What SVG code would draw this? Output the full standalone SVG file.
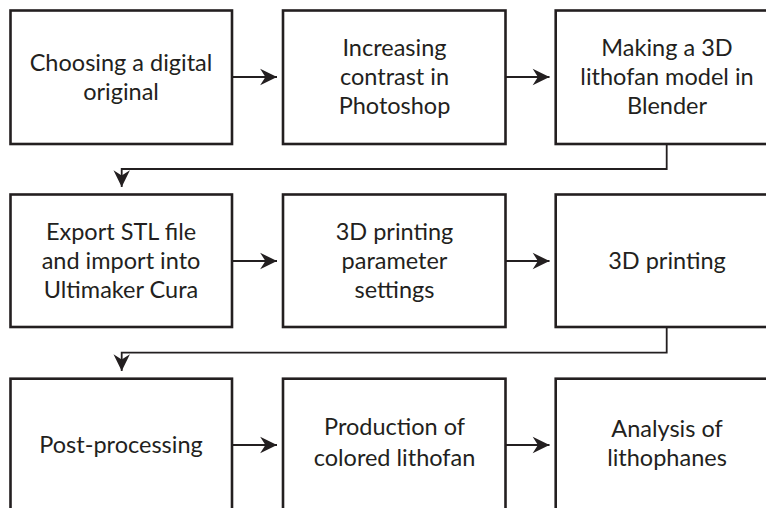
<svg xmlns="http://www.w3.org/2000/svg" width="766" height="508" viewBox="0 0 766 508">
<style>
.box{fill:#fff;stroke:#231f20;stroke-width:2.6}
.lbl{font-family:Lato,"Open Sans","Liberation Sans",sans-serif;font-size:23.5px;fill:#231f20;text-anchor:middle}
.con{fill:none;stroke:#231f20;stroke-width:1.8;marker-end:url(#ah)}
</style>
<defs>
<marker id="ah" markerUnits="userSpaceOnUse" markerWidth="20" markerHeight="20" viewBox="-18 -9 19 18" refX="0" refY="0" orient="auto">
<path d="M0,0 L-16,-7.8 L-11,0 L-16,7.8 Z" fill="#231f20"/>
</marker>
</defs>
<rect width="766" height="508" fill="#fff"/>
<g id="connectors">
<line class="con" x1="232" y1="77" x2="277" y2="77"/>
<line class="con" x1="506" y1="77" x2="549.5" y2="77"/>
<polyline class="con" points="666.7,144 666.7,169 121.7,169 121.7,187"/>
<line class="con" x1="232" y1="261" x2="277" y2="261"/>
<line class="con" x1="506" y1="261" x2="549.5" y2="261"/>
<polyline class="con" points="666.7,327 666.7,352.7 121.7,352.7 121.7,371"/>
<line class="con" x1="232" y1="445" x2="277" y2="445"/>
<line class="con" x1="506" y1="445" x2="549.5" y2="445"/>
</g>
<g id="n1"><rect class="box" x="10.5" y="10.5" width="221.5" height="133.5"/>
<text class="lbl" x="121" y="71">Choosing a digital</text><text class="lbl" x="121" y="100">original</text></g>
<g id="n2"><rect class="box" x="283" y="10.5" width="222.5" height="133.5"/>
<text class="lbl" x="394.5" y="56">Increasing</text><text class="lbl" x="394.5" y="85">contrast in</text><text class="lbl" x="394.5" y="113.5">Photoshop</text></g>
<g id="n3"><rect class="box" x="555.7" y="10.5" width="222.5" height="133.5"/>
<text class="lbl" x="667" y="56">Making a 3D</text><text class="lbl" x="667" y="85">lithofan model in</text><text class="lbl" x="667" y="113.5">Blender</text></g>
<g id="n4"><rect class="box" x="10.5" y="194.5" width="221.5" height="132.5"/>
<text class="lbl" x="121" y="240">Export STL file</text><text class="lbl" x="121" y="269">and import into</text><text class="lbl" x="121" y="298">Ultimaker Cura</text></g>
<g id="n5"><rect class="box" x="283" y="194.5" width="222.5" height="132.5"/>
<text class="lbl" x="394.5" y="240">3D printing</text><text class="lbl" x="394.5" y="269">parameter</text><text class="lbl" x="394.5" y="298">settings</text></g>
<g id="n6"><rect class="box" x="555.7" y="194.5" width="222.5" height="132.5"/>
<text class="lbl" x="667" y="269">3D printing</text></g>
<g id="n7"><rect class="box" x="10.5" y="378.7" width="221.5" height="140"/>
<text class="lbl" x="121" y="453">Post-processing</text></g>
<g id="n8"><rect class="box" x="283" y="378.7" width="222.5" height="140"/>
<text class="lbl" x="394.5" y="435">Production of</text><text class="lbl" x="394.5" y="466">colored lithofan</text></g>
<g id="n9"><rect class="box" x="555.7" y="378.7" width="222.5" height="140"/>
<text class="lbl" x="667" y="437">Analysis of</text><text class="lbl" x="667" y="466">lithophanes</text></g>
</svg>
